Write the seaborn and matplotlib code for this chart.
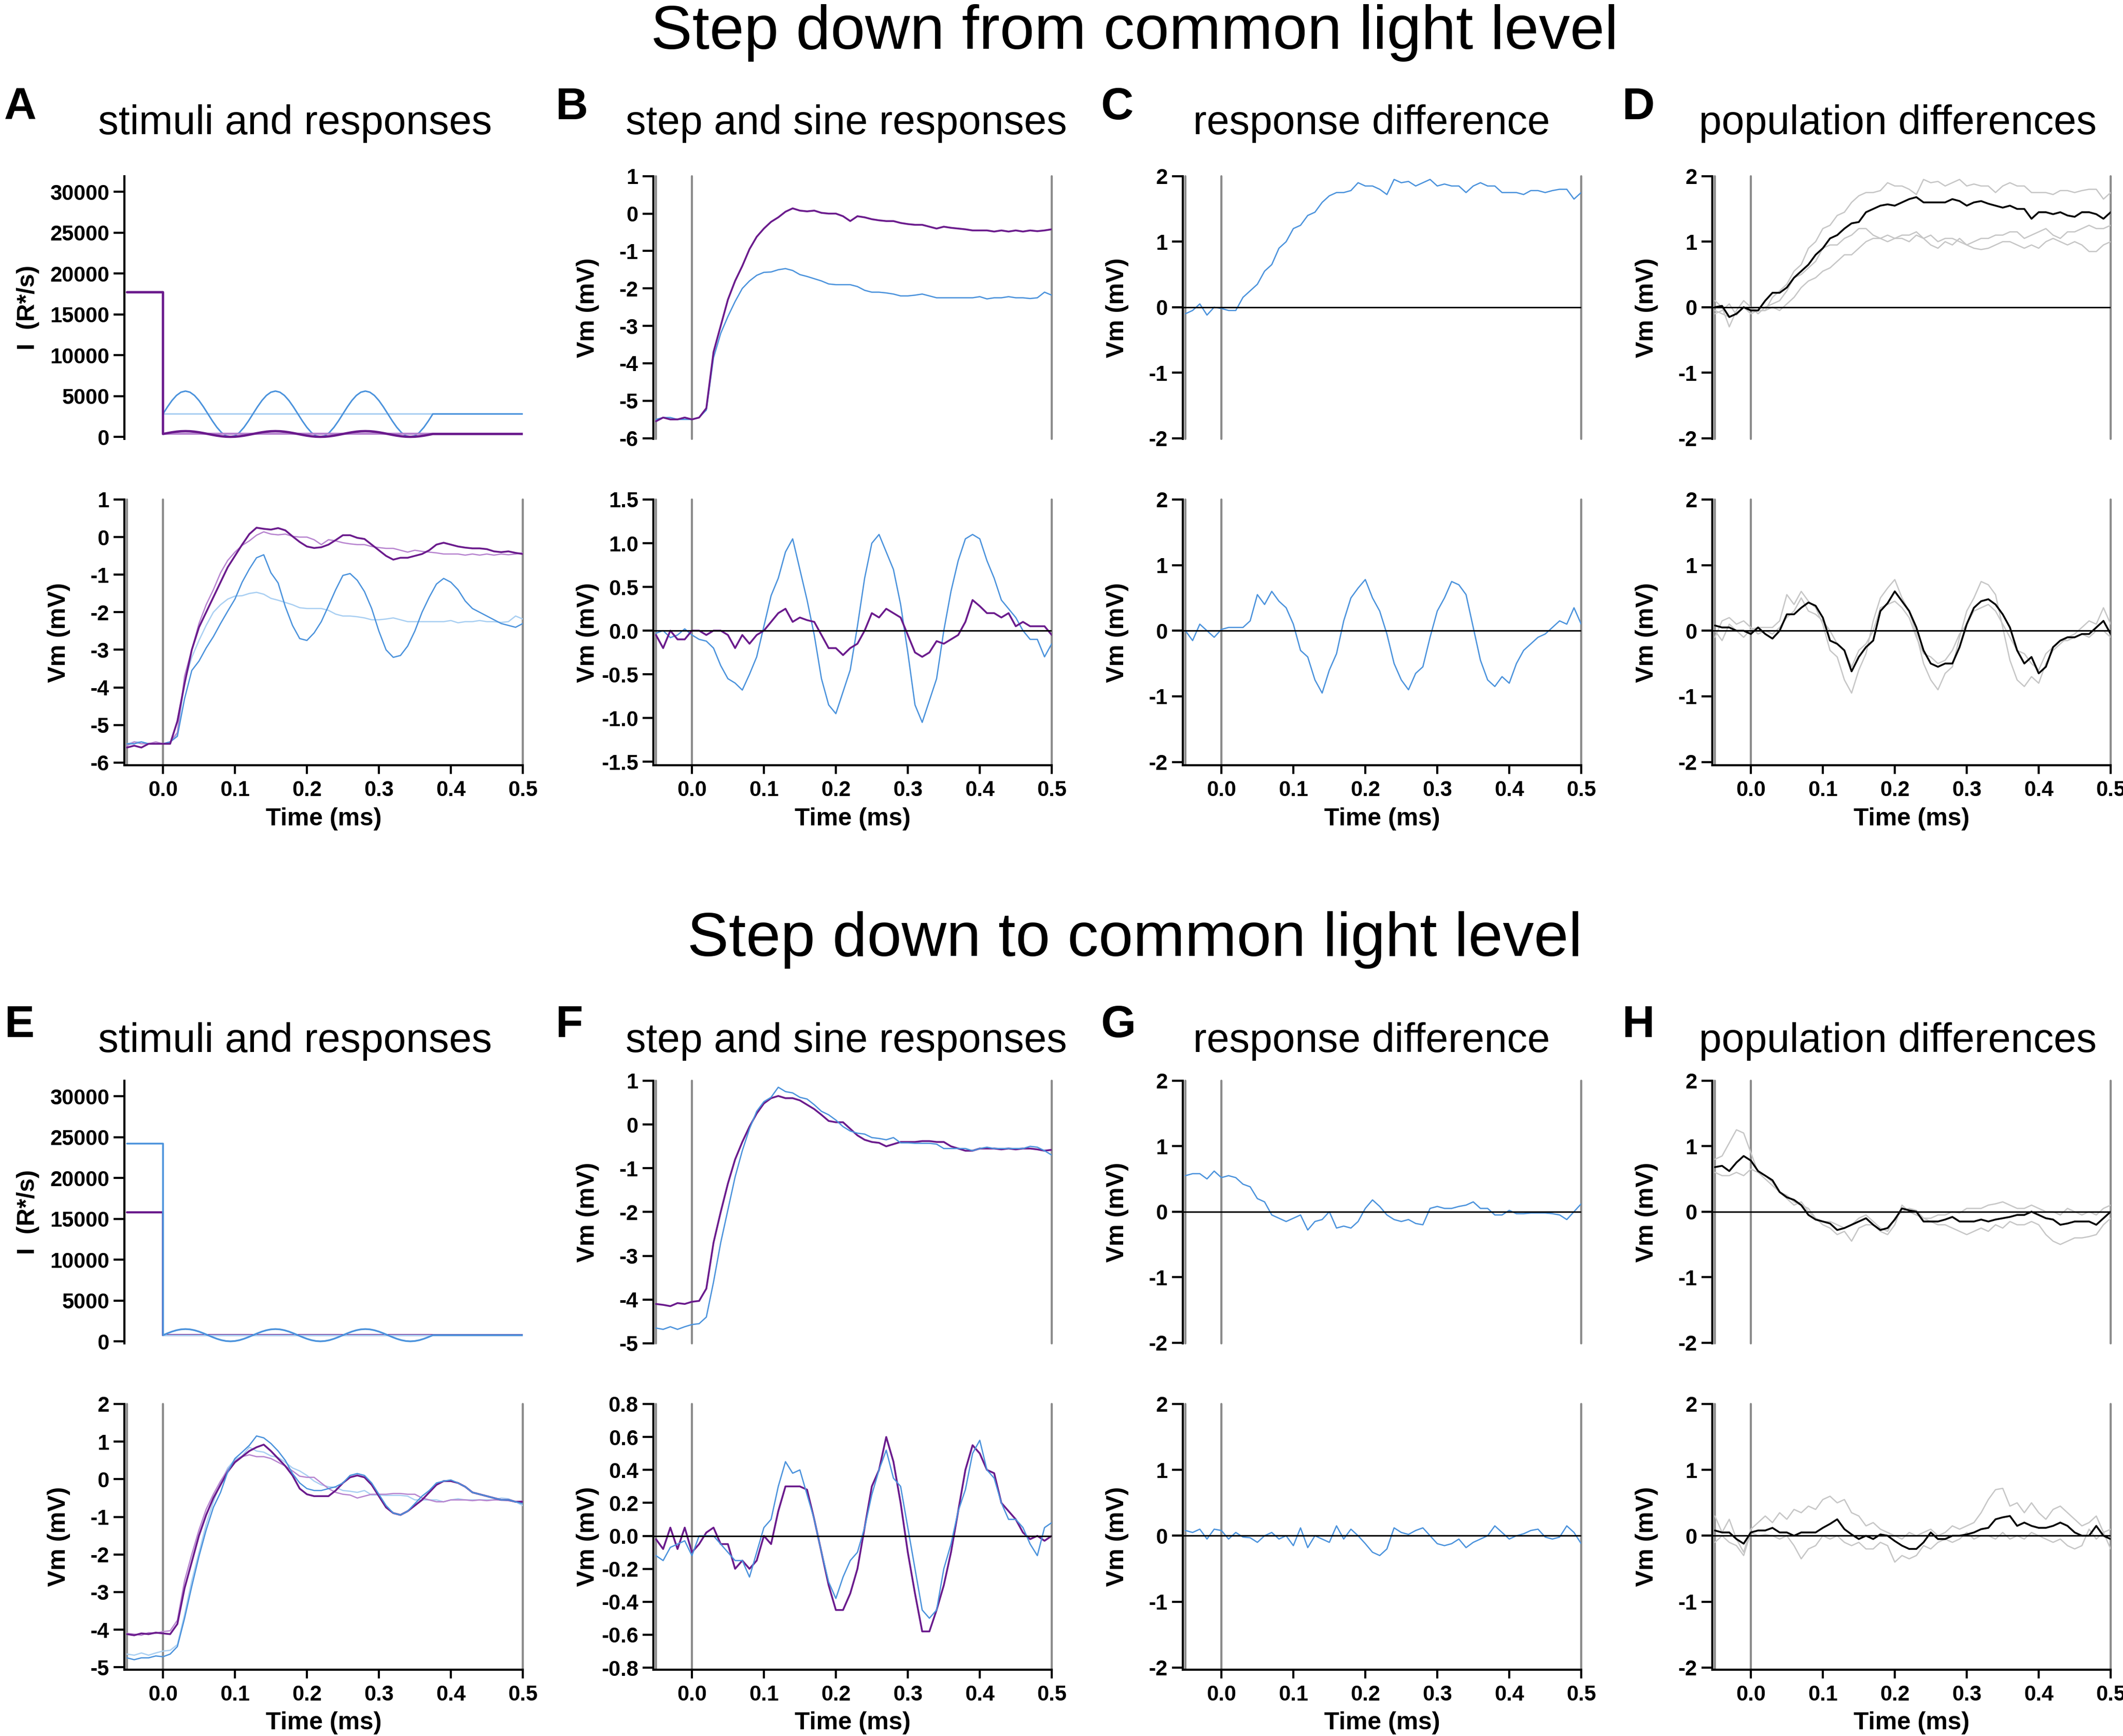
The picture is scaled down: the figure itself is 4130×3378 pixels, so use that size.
import numpy as np
import seaborn as sns
import matplotlib.pyplot as plt

sns.set_style('ticks')
plt.rcParams['font.family'] = ['Liberation Sans', 'DejaVu Sans']
plt.rcParams['font.weight'] = 'bold'
plt.rcParams['axes.unicode_minus'] = False
for key in ['text.color', 'axes.labelcolor', 'xtick.color', 'ytick.color', 'axes.edgecolor']:
    plt.rcParams[key] = 'black'

PURPLE = '#6a1a8c'
LIGHT_PURPLE = '#b784cf'
BLUE = '#4a92dc'
LIGHT_BLUE = '#a9cff2'
GRAY = '#8c8c8c'
CELL_GRAY = '#c6c6c6'

# time base of the recorded traces (ms)
T = np.round(np.arange(-0.05, 0.5001, 0.01), 2)
# time base of the sinusoidal stimulus part (ms)
STIM_T = np.linspace(0.0, 0.375, 61)

# ---- stimuli (R*/s) ----
A_PRE = 17700
A_PURPLE_LEVEL = 350
A_BLUE_LEVEL = 2800
A_STIM_BLUE = [2800, 3665, 4446, 5066, 5463, 5600, 5463, 5066, 4446, 3665,
               2800, 1935, 1154, 534, 137, 0, 137, 534, 1154, 1935,
               2800, 3665, 4446, 5066, 5463, 5600, 5463, 5066, 4446, 3665,
               2800, 1935, 1154, 534, 137, 0, 137, 534, 1154, 1935,
               2800, 3665, 4446, 5066, 5463, 5600, 5463, 5066, 4446, 3665,
               2800, 1935, 1154, 534, 137, 0, 137, 534, 1154, 1935, 2800]
A_STIM_PURPLE = [350, 458, 556, 633, 683, 700, 683, 633, 556, 458,
                 350, 242, 144, 67, 17, 0, 17, 67, 144, 242,
                 350, 458, 556, 633, 683, 700, 683, 633, 556, 458,
                 350, 242, 144, 67, 17, 0, 17, 67, 144, 242,
                 350, 458, 556, 633, 683, 700, 683, 633, 556, 458,
                 350, 242, 144, 67, 17, 0, 17, 67, 144, 242, 350]
E_PRE_BLUE = 24200
E_PRE_PURPLE = 15800
E_LEVEL = 750
E_STIM_BLUE = [750, 982, 1191, 1357, 1463, 1500, 1463, 1357, 1191, 982,
               750, 518, 309, 143, 37, 0, 37, 143, 309, 518,
               750, 982, 1191, 1357, 1463, 1500, 1463, 1357, 1191, 982,
               750, 518, 309, 143, 37, 0, 37, 143, 309, 518,
               750, 982, 1191, 1357, 1463, 1500, 1463, 1357, 1191, 982,
               750, 518, 309, 143, 37, 0, 37, 143, 309, 518, 750]

# ---- step down from common light level (mV) ----
A_STEP_PURPLE = [-5.55, -5.45, -5.5, -5.5, -5.45,
                 -5.5, -5.45, -5.2, -3.7, -3.0, -2.3, -1.8, -1.4, -0.95, -0.62,
                 -0.4, -0.22, -0.1, 0.05, 0.14, 0.08, 0.06, 0.08, 0.02, 0.0,
                 0.0, -0.07, -0.2, -0.07, -0.1, -0.15, -0.18, -0.2, -0.2, -0.25,
                 -0.28, -0.3, -0.3, -0.35, -0.4, -0.35, -0.38, -0.4, -0.42, -0.45,
                 -0.45, -0.45, -0.48, -0.45, -0.48, -0.45, -0.48, -0.45, -0.47, -0.45,
                 -0.42]
A_STEP_BLUE = [-5.5, -5.45, -5.45, -5.5, -5.5,
               -5.5, -5.45, -5.25, -3.85, -3.2, -2.75, -2.35, -2.0, -1.8, -1.65,
               -1.57, -1.56, -1.5, -1.47, -1.52, -1.63, -1.68, -1.74, -1.8, -1.88,
               -1.9, -1.9, -1.9, -1.95, -2.05, -2.1, -2.1, -2.12, -2.15, -2.2,
               -2.2, -2.18, -2.15, -2.2, -2.25, -2.25, -2.25, -2.25, -2.25, -2.25,
               -2.22, -2.28, -2.25, -2.25, -2.22, -2.25, -2.25, -2.27, -2.25, -2.1,
               -2.18]
A_SINE_PURPLE = [-5.6, -5.55, -5.6, -5.5, -5.5,
                 -5.5, -5.5, -4.9, -3.9, -3.0, -2.4, -2.0, -1.6, -1.2, -0.8,
                 -0.5, -0.2, 0.08, 0.25, 0.22, 0.2, 0.24, 0.18, 0.02, -0.13,
                 -0.25, -0.29, -0.27, -0.2, -0.08, 0.05, 0.05, -0.02, -0.05, -0.2,
                 -0.35, -0.5, -0.6, -0.55, -0.55, -0.5, -0.45, -0.35, -0.2, -0.15,
                 -0.2, -0.25, -0.28, -0.3, -0.3, -0.32, -0.38, -0.4, -0.38, -0.42,
                 -0.45]
A_SINE_BLUE = [-5.5, -5.5, -5.45, -5.5, -5.5,
               -5.5, -5.45, -5.3, -4.3, -3.55, -3.3, -2.95, -2.65, -2.3, -1.97,
               -1.65, -1.2, -0.85, -0.55, -0.47, -0.95, -1.22, -1.85, -2.35, -2.7,
               -2.75, -2.55, -2.25, -1.83, -1.4, -1.02, -0.97, -1.15, -1.45, -1.9,
               -2.5, -3.0, -3.2, -3.15, -2.9, -2.5, -2.0, -1.6, -1.25, -1.1,
               -1.2, -1.4, -1.7, -1.9, -2.0, -2.1, -2.2, -2.3, -2.35, -2.4,
               -2.3]
B_DIFF_BLUE = [-0.03, 0.0, -0.08, -0.05, 0.02,
               -0.05, -0.1, -0.12, -0.2, -0.4, -0.55, -0.6, -0.68, -0.5, -0.3,
               0.05, 0.4, 0.6, 0.9, 1.05, 0.7, 0.35, -0.05, -0.55, -0.85,
               -0.95, -0.7, -0.45, 0.05, 0.6, 1.0, 1.1, 0.9, 0.7, 0.3,
               -0.25, -0.85, -1.05, -0.8, -0.55, 0.0, 0.45, 0.8, 1.05, 1.1,
               1.05, 0.8, 0.6, 0.35, 0.25, 0.15, 0.0, -0.1, -0.1, -0.3,
               -0.15]
B_DIFF_PURPLE = [-0.05, -0.2, 0.0, -0.1, -0.1,
                 0.0, 0.0, -0.05, 0.0, 0.0, -0.05, -0.2, -0.05, -0.15, -0.05,
                 0.0, 0.1, 0.2, 0.25, 0.1, 0.15, 0.12, 0.1, -0.05, -0.2,
                 -0.2, -0.28, -0.2, -0.15, 0.0, 0.2, 0.15, 0.25, 0.2, 0.15,
                 -0.05, -0.25, -0.3, -0.25, -0.12, -0.15, -0.1, -0.05, 0.1, 0.35,
                 0.28, 0.2, 0.2, 0.15, 0.2, 0.05, 0.1, 0.05, 0.05, 0.05,
                 -0.05]
C_TOP = [-0.1, -0.05, 0.05, -0.12, 0.0,
         -0.02, -0.05, -0.05, 0.15, 0.25, 0.35, 0.55, 0.65, 0.9, 1.0,
         1.2, 1.25, 1.4, 1.45, 1.6, 1.7, 1.75, 1.75, 1.78, 1.9,
         1.85, 1.85, 1.8, 1.72, 1.95, 1.9, 1.92, 1.85, 1.9, 1.95,
         1.85, 1.88, 1.85, 1.85, 1.75, 1.85, 1.9, 1.85, 1.85, 1.75,
         1.75, 1.75, 1.72, 1.78, 1.78, 1.75, 1.78, 1.8, 1.8, 1.65,
         1.75]
C_BOT = [0.0, -0.15, 0.1, 0.0, -0.1,
         0.02, 0.05, 0.05, 0.05, 0.15, 0.55, 0.4, 0.6, 0.45, 0.35,
         0.1, -0.3, -0.4, -0.75, -0.95, -0.6, -0.35, 0.15, 0.5, 0.65,
         0.78, 0.5, 0.3, -0.05, -0.5, -0.75, -0.9, -0.65, -0.55, -0.1,
         0.3, 0.5, 0.75, 0.7, 0.55, 0.05, -0.45, -0.75, -0.85, -0.7,
         -0.8, -0.5, -0.3, -0.2, -0.1, -0.05, 0.05, 0.15, 0.1, 0.35,
         0.1]
D_TOP_MEAN = [0.0, 0.02, -0.15, -0.1, 0.0,
              -0.05, -0.05, 0.1, 0.22, 0.22, 0.3, 0.45, 0.55, 0.65, 0.8,
              0.9, 1.05, 1.1, 1.2, 1.28, 1.3, 1.45, 1.5, 1.55, 1.57,
              1.55, 1.6, 1.65, 1.68, 1.6, 1.6, 1.6, 1.6, 1.65, 1.62,
              1.55, 1.6, 1.62, 1.58, 1.55, 1.52, 1.55, 1.5, 1.5, 1.35,
              1.45, 1.45, 1.42, 1.45, 1.4, 1.38, 1.45, 1.45, 1.42, 1.35,
              1.45]
D_TOP_CELL2 = [0.1, 0.0, -0.3, -0.05, 0.1,
               0.0, -0.1, 0.0, 0.05, 0.1, 0.25, 0.45, 0.5, 0.6, 0.7,
               0.9, 0.95, 0.95, 1.05, 1.1, 1.2, 1.2, 1.1, 1.05, 1.0,
               1.05, 1.1, 1.1, 1.15, 1.05, 1.1, 1.0, 1.05, 1.05, 1.0,
               0.95, 1.0, 1.05, 1.05, 1.1, 1.1, 1.15, 1.15, 1.05, 1.1,
               1.15, 1.2, 1.1, 1.05, 1.15, 1.15, 1.2, 1.25, 1.2, 1.2,
               1.25]
D_TOP_CELL3 = [-0.05, -0.1, -0.15, -0.1, 0.0,
               -0.1, -0.05, -0.05, 0.0, -0.05, 0.05, 0.15, 0.3, 0.4, 0.45,
               0.55, 0.6, 0.7, 0.8, 0.8, 0.9, 1.0, 1.05, 1.05, 1.1,
               1.05, 1.05, 1.0, 1.1, 1.05, 0.95, 0.9, 1.0, 0.95, 1.05,
               0.95, 0.9, 0.88, 0.9, 0.95, 1.0, 1.0, 0.95, 0.9, 0.95,
               0.9, 1.0, 1.05, 1.0, 0.95, 1.0, 0.95, 0.85, 0.85, 0.95,
               1.0]
D_BOT_MEAN = [0.08, 0.05, 0.05, 0.0, 0.0,
              -0.05, 0.05, -0.05, -0.12, 0.0, 0.25, 0.25, 0.35, 0.43, 0.38,
              0.2, -0.15, -0.2, -0.3, -0.62, -0.4, -0.25, -0.15, 0.3, 0.42,
              0.6, 0.45, 0.3, 0.05, -0.3, -0.5, -0.55, -0.5, -0.5, -0.25,
              0.1, 0.35, 0.45, 0.48, 0.4, 0.25, 0.05, -0.3, -0.5, -0.4,
              -0.65, -0.55, -0.25, -0.15, -0.1, -0.1, -0.05, -0.05, 0.05, 0.15,
              -0.05]
D_BOT_CELL2 = [-0.1, 0.15, 0.2, 0.1, 0.15,
               0.05, -0.05, 0.0, -0.05, 0.05, 0.2, 0.3, 0.5, 0.3, 0.25,
               0.15, 0.0, -0.2, -0.3, -0.55, -0.3, -0.2, 0.0, 0.35, 0.4,
               0.45, 0.35, 0.2, -0.1, -0.35, -0.4, -0.5, -0.45, -0.3, -0.05,
               0.1, 0.3, 0.35, 0.4, 0.3, 0.1, -0.1, -0.3, -0.35, -0.5,
               -0.6, -0.35, -0.25, -0.15, -0.15, -0.1, -0.05, -0.1, 0.0, 0.0,
               -0.1]

# ---- step down to common light level (mV) ----
E_STEP_PURPLE = [-4.1, -4.12, -4.15, -4.08, -4.1,
                 -4.05, -4.03, -3.75, -2.7, -2.0, -1.35, -0.8, -0.4, -0.05, 0.25,
                 0.48, 0.6, 0.65, 0.6, 0.6, 0.55, 0.45, 0.35, 0.22, 0.08,
                 0.05, 0.05, -0.1, -0.25, -0.35, -0.4, -0.42, -0.5, -0.45, -0.4,
                 -0.4, -0.4, -0.38, -0.38, -0.4, -0.4, -0.5, -0.55, -0.6, -0.6,
                 -0.55, -0.55, -0.55, -0.57, -0.55, -0.57, -0.55, -0.55, -0.57, -0.6,
                 -0.58]
E_STEP_BLUE = [-4.65, -4.68, -4.62, -4.68, -4.62,
               -4.57, -4.55, -4.4, -3.6, -2.7, -1.95, -1.2, -0.6, -0.1, 0.3,
               0.52, 0.62, 0.85, 0.75, 0.72, 0.62, 0.58, 0.45, 0.3, 0.22,
               0.1, -0.05, -0.15, -0.2, -0.22, -0.3, -0.32, -0.35, -0.3, -0.42,
               -0.42, -0.43, -0.43, -0.43, -0.45, -0.55, -0.55, -0.55, -0.55, -0.6,
               -0.55, -0.52, -0.55, -0.55, -0.55, -0.55, -0.55, -0.5, -0.52, -0.6,
               -0.7]
E_SINE_PURPLE = [-4.12, -4.15, -4.1, -4.12, -4.08,
                 -4.1, -4.12, -3.85, -2.9, -2.2, -1.5, -0.95, -0.5, -0.15, 0.2,
                 0.45, 0.6, 0.75, 0.85, 0.92, 0.75, 0.55, 0.35, 0.1, -0.25,
                 -0.4, -0.45, -0.45, -0.45, -0.3, -0.1, 0.05, 0.1, 0.05, -0.15,
                 -0.45, -0.75, -0.9, -0.95, -0.85, -0.7, -0.55, -0.35, -0.15, -0.05,
                 -0.05, -0.1, -0.2, -0.35, -0.4, -0.45, -0.5, -0.55, -0.55, -0.6,
                 -0.6]
E_SINE_BLUE = [-4.75, -4.8, -4.75, -4.75, -4.7,
               -4.72, -4.65, -4.45, -3.7, -2.85, -2.05, -1.35, -0.75, -0.35, 0.2,
               0.55, 0.72, 0.9, 1.15, 1.1, 0.95, 0.75, 0.5, 0.15, -0.1,
               -0.25, -0.3, -0.3, -0.25, -0.2, -0.1, 0.1, 0.15, 0.1, -0.1,
               -0.4, -0.7, -0.9, -0.95, -0.85, -0.65, -0.45, -0.3, -0.1, -0.05,
               -0.02, -0.1, -0.2, -0.35, -0.4, -0.45, -0.5, -0.55, -0.55, -0.6,
               -0.65]
F_DIFF_PURPLE = [-0.02, -0.08, 0.05, -0.08, 0.05,
                 -0.1, -0.05, 0.02, 0.05, -0.05, -0.05, -0.2, -0.15, -0.2, -0.15,
                 0.0, -0.05, 0.15, 0.3, 0.3, 0.3, 0.28, 0.1, -0.1, -0.3,
                 -0.45, -0.45, -0.35, -0.2, 0.05, 0.3, 0.4, 0.6, 0.45, 0.2,
                 -0.1, -0.35, -0.58, -0.58, -0.45, -0.3, -0.1, 0.15, 0.4, 0.55,
                 0.5, 0.4, 0.38, 0.2, 0.15, 0.1, 0.02, -0.02, 0.0, -0.03,
                 0.0]
F_DIFF_BLUE = [-0.12, -0.15, -0.07, -0.05, -0.03,
               -0.12, 0.0, 0.0, 0.0, -0.05, -0.1, -0.15, -0.15, -0.25, -0.1,
               0.05, 0.1, 0.3, 0.45, 0.38, 0.4, 0.25, 0.1, -0.1, -0.28,
               -0.38, -0.25, -0.15, -0.1, 0.05, 0.25, 0.4, 0.52, 0.35, 0.3,
               0.05, -0.2, -0.45, -0.5, -0.45, -0.2, -0.05, 0.15, 0.28, 0.5,
               0.58, 0.4, 0.35, 0.2, 0.1, 0.1, 0.05, -0.05, -0.12, 0.05,
               0.08]
G_TOP = [0.55, 0.58, 0.58, 0.5, 0.62,
         0.52, 0.55, 0.52, 0.42, 0.38, 0.2, 0.15, -0.05, -0.1, -0.15,
         -0.1, -0.05, -0.28, -0.15, -0.12, 0.0, -0.25, -0.22, -0.25, -0.15,
         0.05, 0.18, 0.08, -0.05, -0.12, -0.15, -0.12, -0.18, -0.2, 0.05,
         0.08, 0.05, 0.05, 0.08, 0.1, 0.15, 0.05, 0.05, -0.05, -0.05,
         0.02, -0.03, -0.03, -0.02, -0.02, -0.02, -0.03, -0.05, -0.12, 0.0,
         0.12]
G_BOT = [0.08, 0.05, 0.1, -0.05, 0.1,
         0.08, -0.05, 0.05, -0.02, -0.03, -0.1, 0.0, 0.05, -0.05, 0.0,
         -0.15, 0.12, -0.18, 0.0, -0.05, -0.1, 0.15, -0.05, 0.1, 0.0,
         -0.12, -0.25, -0.3, -0.2, 0.12, 0.05, 0.02, 0.08, 0.12, 0.0,
         -0.12, -0.15, -0.12, -0.05, -0.18, -0.1, -0.05, 0.0, 0.15, 0.05,
         -0.05, 0.0, 0.03, 0.08, 0.1, -0.02, -0.05, -0.02, 0.15, 0.05,
         -0.12]
H_TOP_MEAN = [0.68, 0.7, 0.62, 0.75, 0.85,
              0.78, 0.62, 0.55, 0.48, 0.3, 0.22, 0.18, 0.1, -0.05, -0.12,
              -0.15, -0.18, -0.28, -0.25, -0.2, -0.15, -0.1, -0.2, -0.28, -0.25,
              -0.12, 0.05, 0.02, 0.0, -0.15, -0.15, -0.15, -0.12, -0.08, -0.15,
              -0.15, -0.15, -0.12, -0.15, -0.12, -0.1, -0.08, -0.05, -0.05, 0.0,
              -0.05, -0.1, -0.12, -0.2, -0.18, -0.15, -0.15, -0.15, -0.2, -0.1,
              0.0]
H_TOP_CELL1 = [0.8, 0.85, 1.05, 1.25, 1.2,
               0.9, 0.6, 0.5, 0.4, 0.3, 0.2, 0.1, 0.15, 0.0, -0.1,
               -0.2, -0.25, -0.35, -0.3, -0.45, -0.25, -0.2, -0.2, -0.3, -0.35,
               -0.2, 0.1, 0.0, -0.05, -0.1, -0.15, -0.2, -0.2, -0.25, -0.3,
               -0.35, -0.3, -0.25, -0.3, -0.2, -0.25, -0.15, -0.2, -0.2, -0.15,
               -0.2, -0.35, -0.45, -0.5, -0.45, -0.4, -0.4, -0.38, -0.35, -0.2,
               -0.1]
H_TOP_CELL2 = [0.6, 0.55, 0.55, 0.6, 0.55,
               0.65, 0.6, 0.55, 0.45, 0.3, 0.25, 0.15, 0.1, 0.05, -0.1,
               -0.15, -0.15, -0.2, -0.25, -0.2, -0.1, -0.05, -0.15, -0.25, -0.3,
               -0.1, 0.0, 0.05, 0.02, -0.1, -0.1, -0.05, -0.05, 0.0, -0.02,
               0.05, 0.05, 0.05, 0.1, 0.12, 0.15, 0.1, 0.05, 0.05, 0.1,
               0.05, 0.0, 0.0, -0.05, 0.05, 0.0, -0.05, 0.0, -0.05, 0.05,
               0.1]
H_BOT_MEAN = [0.08, 0.05, 0.05, -0.05, -0.12,
              0.05, 0.08, 0.08, 0.12, 0.05, 0.05, 0.0, 0.05, 0.05, 0.05,
              0.12, 0.18, 0.25, 0.1, 0.02, -0.05, 0.0, -0.05, 0.02, 0.0,
              -0.08, -0.15, -0.2, -0.2, -0.1, 0.05, -0.05, -0.05, 0.0, 0.0,
              0.02, 0.05, 0.1, 0.12, 0.25, 0.28, 0.3, 0.15, 0.2, 0.15,
              0.12, 0.12, 0.15, 0.2, 0.15, 0.05, 0.0, 0.0, 0.15, 0.0,
              -0.05]
H_BOT_CELL1 = [0.3, 0.05, 0.25, -0.05, -0.25,
               0.1, 0.2, 0.3, 0.2, 0.35, 0.25, 0.4, 0.35, 0.45, 0.4,
               0.55, 0.6, 0.5, 0.55, 0.35, 0.3, 0.15, 0.2, 0.1, 0.05,
               0.0, -0.05, 0.05, 0.0, 0.05, 0.1, 0.0, 0.05, 0.15, 0.1,
               0.15, 0.2, 0.35, 0.55, 0.7, 0.72, 0.45, 0.5, 0.35, 0.5,
               0.35, 0.25, 0.4, 0.45, 0.35, 0.25, 0.15, 0.2, 0.3, 0.05,
               0.1]
H_BOT_CELL2 = [-0.1, 0.0, -0.1, -0.15, -0.3,
               0.05, 0.0, 0.02, 0.0, -0.05, 0.0, -0.15, -0.35, -0.2, -0.15,
               0.0, -0.05, 0.0, -0.1, -0.15, -0.1, -0.2, -0.2, -0.1, -0.15,
               -0.4, -0.3, -0.35, -0.3, -0.15, -0.2, -0.1, -0.05, -0.1, -0.05,
               0.05, -0.05, 0.0, 0.0, -0.05, 0.05, -0.05, 0.0, -0.05, 0.05,
               0.0, -0.05, -0.1, -0.05, -0.15, -0.2, -0.15, 0.1, -0.05, 0.05,
               -0.2]

STIM_TICKS = [0, 5000, 10000, 15000, 20000, 25000, 30000]
TIME_TICKS = [0.0, 0.1, 0.2, 0.3, 0.4, 0.5]

fig = plt.figure(figsize=(4130 / 300, 3378 / 300), dpi=300)

COLS = [0.0586, 0.30775, 0.55714, 0.80654]
AX_W = 0.18765
ROWS = [(0.74719, 0.15133), (0.55921, 0.15305), (0.22617, 0.15133), (0.03831, 0.15293)]


def make_ax(col, row):
    return fig.add_axes([COLS[col], ROWS[row][0], AX_W, ROWS[row][1]])


def trace(ax, x, y, color, lw=0.6):
    sns.lineplot(x=np.asarray(x, dtype=float), y=np.asarray(y, dtype=float), ax=ax,
                 color=color, linewidth=lw, estimator=None, sort=False)


def setup(ax, ylim, yticks, ylabels, xaxis, ylabel='Vm (mV)', stim=False, zero=False):
    ax.set_xlim(-0.0536, 0.5)
    ax.set_ylim(*ylim)
    ax.set_yticks(yticks)
    ax.set_yticklabels(ylabels)
    ax.spines['top'].set_visible(False)
    ax.spines['right'].set_visible(False)
    ax.spines['left'].set_linewidth(1.0)
    ax.tick_params(axis='y', direction='out', length=5, width=1.0, labelsize=10, pad=2)
    if xaxis:
        ax.spines['bottom'].set_linewidth(1.0)
        ax.set_xticks(TIME_TICKS)
        ax.set_xticklabels(['%.1f' % v for v in TIME_TICKS])
        ax.tick_params(axis='x', direction='out', length=4, width=1.0, labelsize=10, pad=3)
        ax.set_xlabel('Time (ms)', fontsize=11.5, fontweight='bold', labelpad=3)
    else:
        ax.spines['bottom'].set_visible(False)
        ax.set_xticks([])
        ax.set_xlabel('')
    ax.set_ylabel(ylabel, fontsize=11.5, fontweight='bold')
    if stim:
        ax.yaxis.set_label_coords(-0.213, 0.5)
    else:
        ax.yaxis.set_label_coords(-0.135, 0.5)
        for xv in [-0.05, 0.0, 0.5]:
            ax.axvline(xv, color=GRAY, linewidth=1.0, zorder=1, clip_on=False)
    if zero:
        ax.axhline(0, color='black', linewidth=0.7, zorder=2)


def labels(vals, fmt):
    return [fmt % v for v in vals]


def stim_step(pre, level):
    return [-0.05, 0.0, 0.0, 0.5], [pre, pre, level, level]


def stim_sine(pre, sine, level):
    x = np.concatenate([[-0.05, 0.0], STIM_T, [0.5]])
    y = np.concatenate([[pre, pre], sine, [level]])
    return x, y


# ================= Step down from common light level =================
# A: stimuli
ax = make_ax(0, 0)
x, y = stim_step(A_PRE, A_BLUE_LEVEL)
trace(ax, x, y, LIGHT_BLUE, 0.7)
x, y = stim_sine(A_PRE, A_STIM_BLUE, A_BLUE_LEVEL)
trace(ax, x, y, BLUE, 0.7)
x, y = stim_step(A_PRE, A_PURPLE_LEVEL)
trace(ax, x, y, LIGHT_PURPLE, 1.0)
x, y = stim_sine(A_PRE, A_STIM_PURPLE, A_PURPLE_LEVEL)
trace(ax, x, y, PURPLE, 1.1)
setup(ax, (-250, 31900), STIM_TICKS, [str(v) for v in STIM_TICKS], False,
      ylabel='I  (R*/s)', stim=True)

# A: responses
ax = make_ax(0, 1)
trace(ax, T, A_STEP_BLUE, LIGHT_BLUE)
trace(ax, T, A_STEP_PURPLE, LIGHT_PURPLE)
trace(ax, T, A_SINE_BLUE, BLUE)
trace(ax, T, A_SINE_PURPLE, PURPLE, 0.85)
yt = [1, 0, -1, -2, -3, -4, -5, -6]
setup(ax, (-6.07, 1.0), yt, labels(yt, '%d'), True)

# B: step responses and sine minus step
ax = make_ax(1, 0)
trace(ax, T, A_STEP_BLUE, BLUE)
trace(ax, T, A_STEP_PURPLE, PURPLE, 0.85)
setup(ax, (-6.02, 1.0), yt, labels(yt, '%d'), False)

ax = make_ax(1, 1)
trace(ax, T, B_DIFF_BLUE, BLUE)
trace(ax, T, B_DIFF_PURPLE, PURPLE, 0.85)
yt = [1.5, 1.0, 0.5, 0.0, -0.5, -1.0, -1.5]
setup(ax, (-1.54, 1.5), yt, labels(yt, '%.1f'), True, zero=True)

# C: response difference
yt = [2, 1, 0, -1, -2]
ax = make_ax(2, 0)
trace(ax, T, C_TOP, BLUE)
setup(ax, (-2.01, 2.0), yt, labels(yt, '%d'), False, zero=True)

ax = make_ax(2, 1)
trace(ax, T, C_BOT, BLUE)
setup(ax, (-2.05, 2.0), yt, labels(yt, '%d'), True, zero=True)

# D: population differences
ax = make_ax(3, 0)
for cell in [C_TOP, D_TOP_CELL2, D_TOP_CELL3]:
    trace(ax, T, cell, CELL_GRAY)
trace(ax, T, D_TOP_MEAN, 'black', 0.85)
setup(ax, (-2.01, 2.0), yt, labels(yt, '%d'), False, zero=True)

ax = make_ax(3, 1)
for cell in [C_BOT, D_BOT_CELL2]:
    trace(ax, T, cell, CELL_GRAY)
trace(ax, T, D_BOT_MEAN, 'black', 0.85)
setup(ax, (-2.05, 2.0), yt, labels(yt, '%d'), True, zero=True)

# ================= Step down to common light level =================
# E: stimuli
ax = make_ax(0, 2)
x, y = stim_step(E_PRE_PURPLE, E_LEVEL)
trace(ax, x, y, PURPLE, 1.0)
x, y = stim_step(E_PRE_BLUE, E_LEVEL)
trace(ax, x, y, LIGHT_BLUE, 0.7)
x, y = stim_sine(E_PRE_BLUE, E_STIM_BLUE, E_LEVEL)
trace(ax, x, y, BLUE, 0.8)
setup(ax, (-250, 31900), STIM_TICKS, [str(v) for v in STIM_TICKS], False,
      ylabel='I  (R*/s)', stim=True)

# E: responses
ax = make_ax(0, 3)
trace(ax, T, E_STEP_BLUE, LIGHT_BLUE)
trace(ax, T, E_STEP_PURPLE, LIGHT_PURPLE)
trace(ax, T, E_SINE_PURPLE, PURPLE, 0.85)
trace(ax, T, E_SINE_BLUE, BLUE)
yt = [2, 1, 0, -1, -2, -3, -4, -5]
setup(ax, (-5.06, 2.0), yt, labels(yt, '%d'), True)

# F: step responses and sine minus step
ax = make_ax(1, 2)
trace(ax, T, E_STEP_PURPLE, PURPLE, 0.85)
trace(ax, T, E_STEP_BLUE, BLUE)
yt = [1, 0, -1, -2, -3, -4, -5]
setup(ax, (-5.0, 1.0), yt, labels(yt, '%d'), False)

ax = make_ax(1, 3)
trace(ax, T, F_DIFF_PURPLE, PURPLE, 0.85)
trace(ax, T, F_DIFF_BLUE, BLUE)
yt = [0.8, 0.6, 0.4, 0.2, 0.0, -0.2, -0.4, -0.6, -0.8]
setup(ax, (-0.811, 0.8), yt, labels(yt, '%.1f'), True, zero=True)

# G: response difference
yt = [2, 1, 0, -1, -2]
ax = make_ax(2, 2)
trace(ax, T, G_TOP, BLUE)
setup(ax, (-2.01, 2.0), yt, labels(yt, '%d'), False, zero=True)

ax = make_ax(2, 3)
trace(ax, T, G_BOT, BLUE)
setup(ax, (-2.03, 2.0), yt, labels(yt, '%d'), True, zero=True)

# H: population differences
ax = make_ax(3, 2)
for cell in [H_TOP_CELL1, H_TOP_CELL2]:
    trace(ax, T, cell, CELL_GRAY)
trace(ax, T, H_TOP_MEAN, 'black', 0.85)
setup(ax, (-2.01, 2.0), yt, labels(yt, '%d'), False, zero=True)

ax = make_ax(3, 3)
for cell in [H_BOT_CELL1, H_BOT_CELL2]:
    trace(ax, T, cell, CELL_GRAY)
trace(ax, T, H_BOT_MEAN, 'black', 0.85)
setup(ax, (-2.03, 2.0), yt, labels(yt, '%d'), True, zero=True)

# titles, panel letters and panel subtitles
fig.text(0.5344, 0.9719, 'Step down from common light level', ha='center', va='baseline',
         fontsize=29, fontweight='normal')
fig.text(0.5344, 0.4494, 'Step down to common light level', ha='center', va='baseline',
         fontsize=29, fontweight='normal')

SUBTITLES = ['stimuli and responses', 'step and sine responses',
             'response difference', 'population differences']
SUB_X = [0.139, 0.3986, 0.646, 0.894]
LETTER_X = [0.002, 0.2615, 0.5185, 0.764]
for i in range(4):
    fig.text(LETTER_X[i], 0.9314, 'ABCD'[i], ha='left', va='baseline', fontsize=21, fontweight='bold')
    fig.text(LETTER_X[i], 0.4027, 'EFGH'[i], ha='left', va='baseline', fontsize=21, fontweight='bold')
    fig.text(SUB_X[i], 0.9228, SUBTITLES[i], ha='center', va='baseline', fontsize=19, fontweight='normal')
    fig.text(SUB_X[i], 0.394, SUBTITLES[i], ha='center', va='baseline', fontsize=19, fontweight='normal')

fig.savefig('out.png', dpi=300)
